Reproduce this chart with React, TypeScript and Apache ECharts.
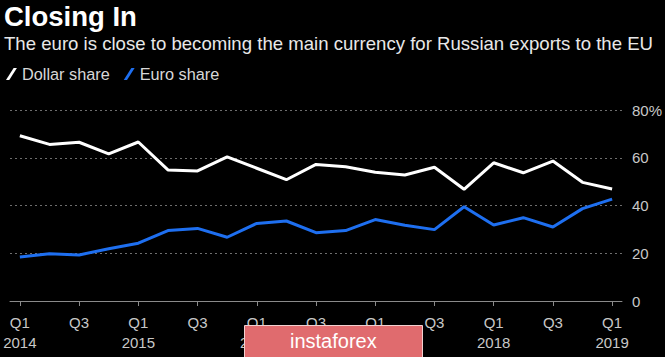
import React, { useEffect, useRef } from "react";
import * as echarts from "echarts";

const quarterLabels = [
  "Q1\n2014", "Q2", "Q3", "Q4",
  "Q1\n2015", "Q2", "Q3", "Q4",
  "Q1\n2016", "Q2", "Q3", "Q4",
  "Q1\n2017", "Q2", "Q3", "Q4",
  "Q1\n2018", "Q2", "Q3", "Q4",
  "Q1\n2019",
];
const dollarShare = [69.2, 65.6, 66.5, 61.6, 66.6, 54.9, 54.5, 60.4, 55.6, 50.8, 57.2, 56.2, 53.9, 52.8, 56.0, 46.8, 57.9, 53.7, 58.6, 49.7, 46.9];
const euroShare = [18.4, 19.8, 19.3, 21.9, 24.2, 29.5, 30.4, 26.7, 32.5, 33.5, 28.6, 29.5, 34.1, 31.7, 29.9, 39.5, 31.8, 34.9, 31.0, 38.7, 42.7];
const labelIdx = [0, 2, 4, 6, 8, 10, 12, 14, 16, 18, 20];
const yTicks = [0, 20, 40, 60, 80];

const FONT = "'Liberation Sans', Arial, sans-serif";

export default function App() {
  const ref = useRef<HTMLDivElement>(null);
  useEffect(() => {
    document.body.style.margin = "0";
    const chart = echarts.init(ref.current!, null, { renderer: "svg" });
    const slash = "path://M0,11 L3,11 L10,0 L7,0 Z";
    chart.setOption({
      animation: false,
      backgroundColor: "#000000",
      textStyle: { fontFamily: FONT },
      title: [
        {
          text: "Closing In",
          left: 4,
          top: 2,
          padding: 0,
          textStyle: { color: "#ffffff", fontSize: 27.5, fontWeight: "bold", fontFamily: FONT },
        },
        {
          text: "The euro is close to becoming the main currency for Russian exports to the EU",
          left: 4,
          top: 34,
          padding: 0,
          textStyle: { color: "#e8e8e8", fontSize: 18.6, fontWeight: "normal", fontFamily: FONT },
        },
      ],
      legend: {
        left: 6,
        top: 66,
        padding: 0,
        itemWidth: 11,
        itemHeight: 12,
        itemGap: 14,
        textStyle: { color: "#d8d8d8", fontSize: 16.3, fontFamily: FONT },
        data: [
          { name: "Dollar share", icon: slash, itemStyle: { color: "#ffffff" } },
          { name: "Euro share", icon: slash, itemStyle: { color: "#1e6ff0" } },
        ],
      },
      grid: { left: 10, right: 35, top: 110, bottom: 56, containLabel: false },
      xAxis: {
        type: "value",
        min: -1 / 3,
        max: 20 + 1 / 3,
        splitLine: { show: false },
        axisLine: { show: true, lineStyle: { color: "#8a8a8a", width: 1 } },
        axisTick: { show: true, customValues: labelIdx, length: 5, lineStyle: { color: "#8a8a8a" } },
        axisLabel: {
          customValues: labelIdx,
          formatter: (v: number) => quarterLabels[Math.round(v)] ?? "",
          color: "#c8c8c8",
          fontSize: 15,
          lineHeight: 20,
          margin: 11,
          fontFamily: FONT,
          verticalAlign: "top",
        },
      },
      yAxis: {
        type: "value",
        position: "right",
        min: 0,
        max: 80,
        interval: 20,
        axisLine: { show: false },
        axisTick: { show: false },
        splitLine: { show: true, lineStyle: { color: "#6e6e6e", type: [2, 3], width: 1 } },
        axisLabel: {
          color: "#c8c8c8",
          fontSize: 15,
          margin: 10,
          fontFamily: FONT,
          formatter: (v: number) => (v === yTicks[yTicks.length - 1] ? v + "%" : String(v)),
        },
      },
      series: [
        {
          name: "Dollar share",
          type: "line",
          data: dollarShare.map((v, i) => [i, v]),
          symbol: "none",
          lineStyle: { color: "#ffffff", width: 3 },
          itemStyle: { color: "#ffffff" },
          z: 3,
        },
        {
          name: "Euro share",
          type: "line",
          data: euroShare.map((v, i) => [i, v]),
          symbol: "none",
          lineStyle: { color: "#1e6ff0", width: 3 },
          itemStyle: { color: "#1e6ff0" },
          z: 2,
        },
      ],
      graphic: [
        {
          type: "rect",
          left: 244,
          top: 325,
          z: 100,
          shape: { width: 178, height: 40 },
          style: { fill: "#e06b6e", stroke: "#f2d0d0", lineWidth: 1 },
        },
        {
          type: "text",
          left: 290,
          top: 331,
          z: 101,
          style: { text: "instaforex", fill: "#ffffff", fontSize: 20, fontFamily: FONT },
        },
      ],
    });
    return () => chart.dispose();
  }, []);
  return (
    <div
      ref={ref}
      style={{ position: "absolute", left: 0, top: 0, width: 665, height: 357, background: "#000" }}
    />
  );
}
